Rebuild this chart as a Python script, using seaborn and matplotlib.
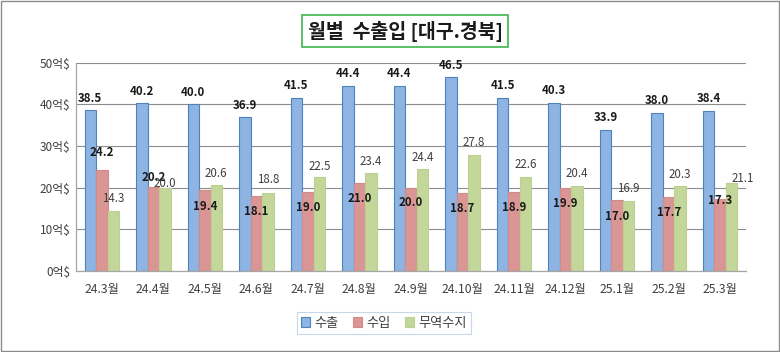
import matplotlib
matplotlib.use("Agg")
import matplotlib.pyplot as plt
import seaborn as sns
import pandas as pd

months = ["24.3월", "24.4월", "24.5월", "24.6월", "24.7월", "24.8월", "24.9월",
          "24.10월", "24.11월", "24.12월", "25.1월", "25.2월", "25.3월"]
exports = [38.5, 40.2, 40.0, 36.9, 41.5, 44.4, 44.4, 46.5, 41.5, 40.3, 33.9, 38.0, 38.4]
imports = [24.2, 20.2, 19.4, 18.1, 19.0, 21.0, 20.0, 18.7, 18.9, 19.9, 17.0, 17.7, 17.3]
balance = [14.3, 20.0, 20.6, 18.8, 22.5, 23.4, 24.4, 27.8, 22.6, 20.4, 16.9, 20.3, 21.1]
series = ["수출", "수입", "무역수지"]
yticks = [0, 10, 20, 30, 40, 50]

sns.set_theme(style="white")
plt.rcParams['font.family'] = ['Noto Sans CJK KR', 'DejaVu Sans']

df = pd.DataFrame({
    "month": months * 3,
    "value": exports + imports + balance,
    "series": [series[0]] * 13 + [series[1]] * 13 + [series[2]] * 13,
})

faces = ["#8DB4E2", "#DA9694", "#C4D79B"]
edges = ["#4F81BD", "#D48A88", "#BCD08F"]

fig = plt.figure(figsize=(7.8, 3.52), dpi=100)
ax = fig.add_axes([76 / 780, 1 - 271 / 352, 670 / 780, (271 - 62.5) / 352])

sns.barplot(data=df, x="month", y="value", hue="series", hue_order=series,
            palette=faces, width=0.67, ax=ax, legend=False, saturation=1)

for cont, ec in zip(ax.containers, edges):
    for b in cont:
        b.set_edgecolor(ec)
        b.set_linewidth(0.8)

ax.set_ylim(0, 50)
ax.set_xlim(-0.5, 12.5)
ax.set_yticks(yticks)
ax.set_yticklabels([f"{v}억$" for v in yticks], fontsize=8.5, color="#404040")
ax.tick_params(axis="x", labelsize=8.8, colors="#404040", pad=9, length=0)
ax.tick_params(axis="y", length=0, pad=4)
ax.set_xlabel("")
ax.set_ylabel("")
ax.yaxis.grid(True, color="#8C8C8C", linewidth=0.8)
ax.set_axisbelow(True)
for s in ["top", "right"]:
    ax.spines[s].set_visible(False)
for s in ["left", "bottom"]:
    ax.spines[s].set_color("#A6A6A6")
    ax.spines[s].set_linewidth(0.9)

px = 0.72
exp_off = [12] * 13
imp_off = [18, 9, -16, -16, -16, -15, -15, -15, -15, -15, -16, -15, -2]
bal_off = [13, 4, 12, 13, 11, 12, 12, 13, 12, 12, 12, 12, 5]
bal_dx = [0] * 12 + [11]

conts = ax.containers
for i in range(13):
    b = conts[0][i]
    ax.annotate(f"{exports[i]:.1f}", (b.get_x() + b.get_width() / 2, b.get_height()),
                xytext=(0, exp_off[i] * px), textcoords="offset points",
                ha="center", va="center", fontsize=8.3, fontweight="bold", color="#1a1a1a",
                annotation_clip=False)
    b = conts[1][i]
    ax.annotate(f"{imports[i]:.1f}", (b.get_x() + b.get_width() / 2, b.get_height()),
                xytext=(0, imp_off[i] * px), textcoords="offset points",
                ha="center", va="center", fontsize=8.3, fontweight="bold", color="#1a1a1a")
    b = conts[2][i]
    ax.annotate(f"{balance[i]:.1f}", (b.get_x() + b.get_width() / 2, b.get_height()),
                xytext=(bal_dx[i] * px, bal_off[i] * px), textcoords="offset points",
                ha="center", va="center", fontsize=8.3, color="#404040")

from matplotlib.patches import Patch
handles = [Patch(facecolor=f, edgecolor=e, linewidth=0.8) for f, e in zip(faces, edges)]
leg = fig.legend(handles, series, loc="center", bbox_to_anchor=(384 / 780, 1 - 323 / 352),
                 ncol=3, fontsize=9.5, frameon=True, fancybox=False,
                 handlelength=0.7, handleheight=0.7, handletextpad=0.3, columnspacing=1.1,
                 borderpad=0.35)
leg.get_frame().set_edgecolor("#B9CDE5")
leg.get_frame().set_linewidth(0.8)
for t in leg.get_texts():
    t.set_color("#404040")

fig.text(405 / 780, 1 - 31 / 352, "월별  수출입 [대구.경북]", ha="center", va="center",
         fontsize=14, fontweight="bold", color="#1a1a1a",
         bbox=dict(boxstyle="square,pad=0.3", facecolor="white", edgecolor="#3CB54A", linewidth=1.2))

border = plt.Rectangle((0.001, 0.002), 0.998, 0.996, transform=fig.transFigure,
                       fill=False, edgecolor="#8C8C8C", linewidth=1.0)
fig.add_artist(border)

fig.savefig("out.png", dpi=100)
